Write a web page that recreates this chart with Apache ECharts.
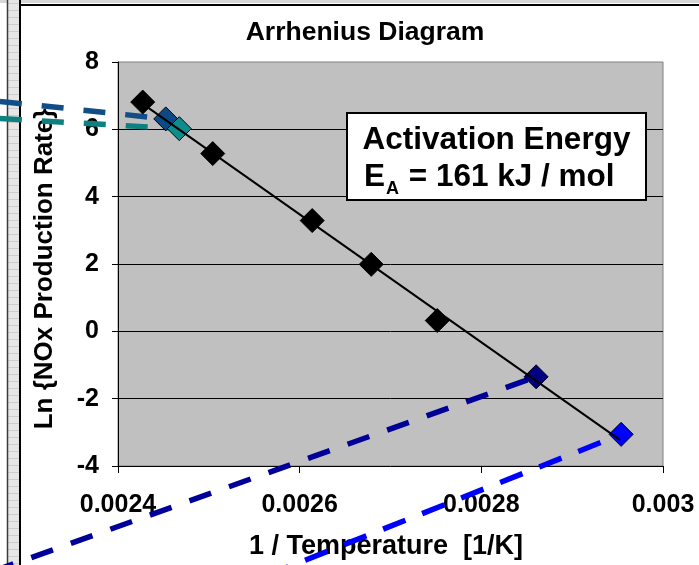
<!DOCTYPE html>
<html><head><meta charset="utf-8">
<script src="https://cdn.jsdelivr.net/npm/echarts@6/dist/echarts.min.js"></script>
<style>html,body{margin:0;padding:0;background:#fff}#c{width:699px;height:565px}</style>
</head><body><div id="c"></div>
<script>
// ---- data ----
const invT = [0.0024272, 0.0024526, 0.0024675, 0.0025043, 0.0026138, 0.0026788, 0.0027515, 0.0028603, 0.0029539];
const lnRate = [6.81, 6.31, 6.02, 5.28, 3.29, 1.99, 0.32, -1.35, -3.06];
const trendInvT = [0.002428, 0.002953];
const trendLn = [6.74, -3.23];
// dashed callout lines: outer start point -> data point index
const calloutInvT = [0.00227, 0.00227, 0.002261, 0.002563];
const calloutLn = [6.83, 6.32, -7.14, -7.26];
const calloutTarget = [1, 2, 7, 8];
const xTicks = [0.0024, 0.0026, 0.0028, 0.003];
const yTicks = [-4, -2, 0, 2, 4, 6, 8];
const titleText = 'Arrhenius Diagram';
const xName = '1 / Temperature  [1/K]';
const yName = 'Ln {NOx Production Rate}';

// ---- styles ----
const pointColors = ['#000000','#0d4a85','#118c8c','#000000','#000000','#000000','#000000','#000080','#0000ff'];
const calloutColors = ['#114d86', '#0f8080', '#000099', '#0000ff'];
const calloutDash = [[22,20],[22,20],[23,19],[24,18]];
const FONT = "'Liberation Sans', Arial, sans-serif";

const chart = echarts.init(document.getElementById('c'), null, {renderer: 'canvas'});

const series = [];
series.push({
  type: 'scatter', z: 4, symbol: 'diamond', symbolSize: 24,
  data: invT.map((x, i) => ({value: [x, lnRate[i]], itemStyle: {color: pointColors[i]}})),
  itemStyle: {borderColor: '#000', borderWidth: 1, opacity: 1}
});
series.push({
  type: 'line', z: 5, symbol: 'none',
  data: trendInvT.map((x, i) => [x, trendLn[i]]),
  lineStyle: {color: '#000', width: 2}
});

const graphics = [];
// window frame
graphics.push({type: 'rect', z: 0, shape: {x: 0, y: 0, width: 699, height: 3}, style: {fill: '#d6d6d6'}});
graphics.push({type: 'rect', z: 0, shape: {x: 8, y: 0, width: 11, height: 565}, style: {fill: '#e6e6e6'}});
for (let y = 3; y < 565; y += 7) {
  graphics.push({type: 'line', z: 0, shape: {x1: 8, y1: y + 0.5, x2: 19, y2: y + 0.5}, style: {stroke: '#cdcdcd', lineWidth: 1}});
}
graphics.push({type: 'line', z: 0, shape: {x1: 7.5, y1: 0, x2: 7.5, y2: 565}, style: {stroke: '#3a3a3a', lineWidth: 1.5}});
graphics.push({type: 'line', z: 0, shape: {x1: 20, y1: 0, x2: 20, y2: 565}, style: {stroke: '#000', lineWidth: 2}});
graphics.push({type: 'line', z: 0, shape: {x1: 20, y1: 5, x2: 699, y2: 5}, style: {stroke: '#000', lineWidth: 2}});
// titles
graphics.push({type: 'text', z: 1, x: 365, y: 33, style: {text: titleText, font: "bold 26.5px " + FONT, fill: '#000', align: 'center', verticalAlign: 'middle'}});
graphics.push({type: 'text', z: 1, x: 386, y: 547, style: {text: xName, font: "bold 27px " + FONT, fill: '#000', align: 'center', verticalAlign: 'middle'}});
graphics.push({type: 'text', z: 1, x: 45, y: 269, rotation: Math.PI / 2, style: {text: yName, font: "bold 26px " + FONT, fill: '#000', align: 'center', verticalAlign: 'middle'}});
// annotation box
graphics.push({type: 'rect', z: 3, shape: {x: 347, y: 113, width: 299, height: 87}, style: {fill: '#fff', stroke: '#000', lineWidth: 2}});
graphics.push({type: 'text', z: 3, x: 496.5, y: 140, style: {text: 'Activation Energy', font: "bold 31.5px " + FONT, fill: '#000', align: 'center', verticalAlign: 'middle'}});
graphics.push({type: 'text', z: 3, x: 364, y: 177, style: {text: 'E', font: "bold 31.5px " + FONT, fill: '#000', align: 'left', verticalAlign: 'middle'}});
graphics.push({type: 'text', z: 3, x: 386, y: 189, style: {text: 'A', font: "bold 18px " + FONT, fill: '#000', align: 'left', verticalAlign: 'middle'}});
graphics.push({type: 'text', z: 3, x: 400, y: 177, style: {text: ' = 161 kJ / mol', font: "bold 31.5px " + FONT, fill: '#000', align: 'left', verticalAlign: 'middle'}});

chart.setOption({
  animation: false,
  backgroundColor: '#ffffff',
  grid: {left: 118, right: 36, top: 62, bottom: 99, show: true, backgroundColor: '#c0c0c0', borderColor: '#808080', borderWidth: 1},
  xAxis: {
    type: 'value', min: xTicks[0], max: xTicks[xTicks.length - 1], interval: 0.0002,
    axisLine: {show: true, onZero: false, lineStyle: {color: '#000', width: 1}},
    axisTick: {show: true, inside: false, length: 7, lineStyle: {color: '#000'}},
    splitLine: {show: false},
    axisLabel: {margin: 27, color: '#000', fontFamily: FONT, fontWeight: 'bold', fontSize: 25,
      formatter: v => String(parseFloat(v.toFixed(4)))}
  },
  yAxis: {
    type: 'value', min: yTicks[0], max: yTicks[yTicks.length - 1], interval: 2,
    axisLine: {show: true, lineStyle: {color: '#000', width: 1}},
    axisTick: {show: true, inside: false, length: 6, lineStyle: {color: '#000'}},
    splitLine: {show: true, showMaxLine: false, showMinLine: false, lineStyle: {color: '#000', width: 1}},
    axisLabel: {margin: 19, color: '#000', fontFamily: FONT, fontWeight: 'bold', fontSize: 25}
  },
  graphic: graphics,
  series: series
});

// dashed callouts, positioned through the chart's own axes
const callouts = calloutTarget.map((ti, k) => {
  const p0 = chart.convertToPixel({gridIndex: 0}, [calloutInvT[k], calloutLn[k]]);
  const p1 = chart.convertToPixel({gridIndex: 0}, [invT[ti], lnRate[ti]]);
  return {type: 'line', z: 3, silent: true,
    shape: {x1: p0[0], y1: p0[1], x2: p1[0], y2: p1[1]},
    style: {stroke: calloutColors[k], lineWidth: 5.5, lineDash: calloutDash[k], lineCap: 'butt'}};
});
chart.setOption({graphic: graphics.concat(callouts)});
</script></body></html>
